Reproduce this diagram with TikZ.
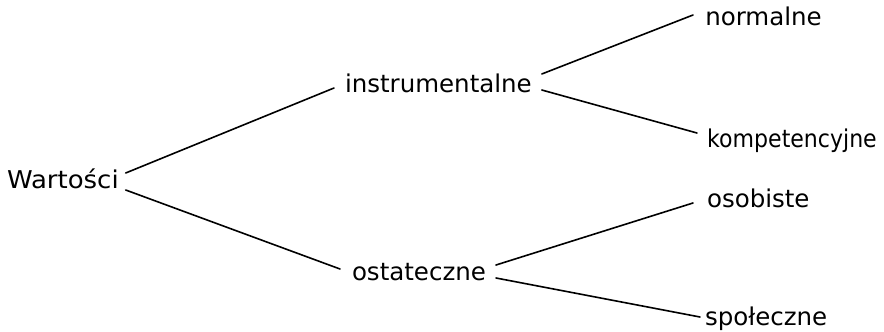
\documentclass[tikz,border=0pt]{standalone}
\usepackage{fontspec}
\usepackage{graphicx}
\setmainfont{DejaVu Sans}
\begin{document}
\begin{tikzpicture}[x=1pt,y=-1pt,
  lbl/.style={inner sep=0pt, outer sep=0pt, anchor=base west, font=\fontsize{24.5pt}{29pt}\selectfont},
  link/.style={line width=1.6pt, line cap=round}]
\useasboundingbox (0,0) rectangle (884,332);
\node[lbl, minimum width=111pt] (w)  at (7,188)   {\scalebox{1.06}[1]{Wartości}};
\node[lbl, minimum width=185pt] (i)  at (345,92)  {instrumentalne};
\node[lbl, minimum width=133pt] (o)  at (352,280) {ostateczne};
\node[lbl, minimum width=117pt] (n)  at (705,25)  {normalne};
\node[lbl, minimum width=170pt] (k)  at (707,147) {\scalebox{0.9}[1]{kompetencyjne}};
\node[lbl, minimum width=100pt] (ob) at (707,207) {osobiste};
\node[lbl, minimum width=122pt] (s)  at (705,325) {społeczne};
\draw[link] ([shift={(7pt,15pt)}]w.base east) -- ([shift={(-11pt,4pt)}]i.base west);
\draw[link] ([shift={(7pt,-2pt)}]w.base east) -- ([shift={(-12pt,11pt)}]o.base west);
\draw[link] ([shift={(10pt,18pt)}]i.base east) -- ([shift={(-12pt,10pt)}]n.base west);
\draw[link] ([shift={(10pt,2pt)}]i.base east) -- ([shift={(-10pt,14pt)}]k.base west);
\draw[link] ([shift={(10pt,15pt)}]o.base east) -- ([shift={(-14pt,4pt)}]ob.base west);
\draw[link] ([shift={(10pt,2pt)}]o.base east) -- ([shift={(-5pt,8pt)}]s.base west);
\end{tikzpicture}
\end{document}
